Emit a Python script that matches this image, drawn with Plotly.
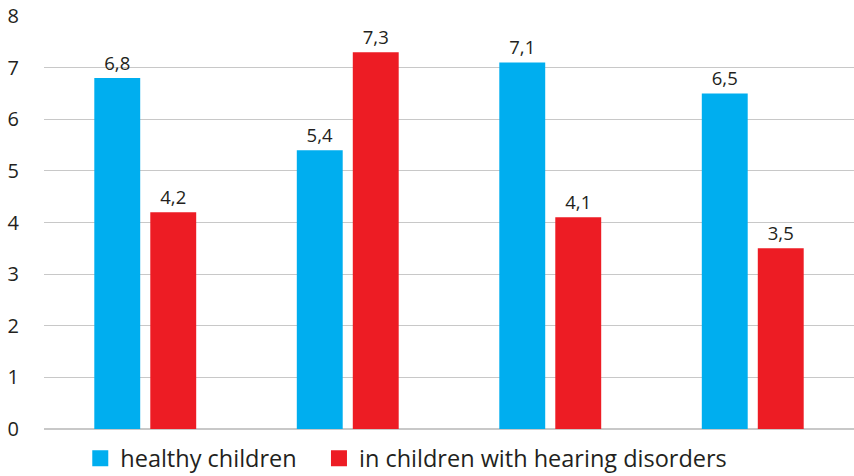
import plotly.graph_objects as go

categories = ["1", "2", "3", "4"]
healthy = [6.8, 5.4, 7.1, 6.5]
hearing = [4.2, 7.3, 4.1, 3.5]
series_names = ["healthy children", "in children with hearing disorders"]
colors = ["#00AEEF", "#ED1C24"]
y_ticks = [0, 1, 2, 3, 4, 5, 6, 7, 8]

FONT = "Open Sans"
TXT = "#231F20"

fig = go.Figure()
for vals, name, col in zip([healthy, hearing], series_names, colors):
    fig.add_trace(go.Bar(x=categories, y=vals, name=name, showlegend=False,
                         marker=dict(color=col, line=dict(width=0)),
                         texttemplate="%{y:.1f}", textposition="outside",
                         textfont=dict(family=FONT, size=18.5, color=TXT), cliponaxis=False))
# legend entries with square symbols (one legend box each)
for name, col, lg in zip(series_names, colors, ["legend", "legend2"]):
    fig.add_trace(go.Scatter(x=[None], y=[None], mode="markers", name=name,
                             marker=dict(symbol="square", size=19, color=col),
                             showlegend=True, legend=lg))

legend_common = dict(orientation="h", xref="container", yref="container",
                     xanchor="left", y=0.037, yanchor="middle",
                     font=dict(family=FONT, size=23.5, color=TXT),
                     itemsizing="trace", itemwidth=30)

fig.update_layout(
    width=854, height=476,
    margin=dict(l=44, r=0, t=16, b=47, autoexpand=False),
    paper_bgcolor="white", plot_bgcolor="white",
    separators=", ",
    barmode="group", bargap=0.447, bargroupgap=0.18,
    font=dict(family=FONT, color=TXT),
    legend=dict(x=0.094, **legend_common),
    legend2=dict(x=0.3735, **legend_common),
)
fig.update_xaxes(showticklabels=False, showgrid=False, zeroline=False, showline=False,
                 range=[-0.5, 3.5])
fig.update_yaxes(range=[0, 8], tickvals=y_ticks, showgrid=True, gridcolor="#C8C8C8",
                 gridwidth=1.3, zeroline=True, zerolinecolor="#C8C8C8", zerolinewidth=1.6,
                 showline=False, ticks="", ticklabelstandoff=24,
                 tickfont=dict(family=FONT, size=20, color=TXT))

fig.write_html("out.html")
